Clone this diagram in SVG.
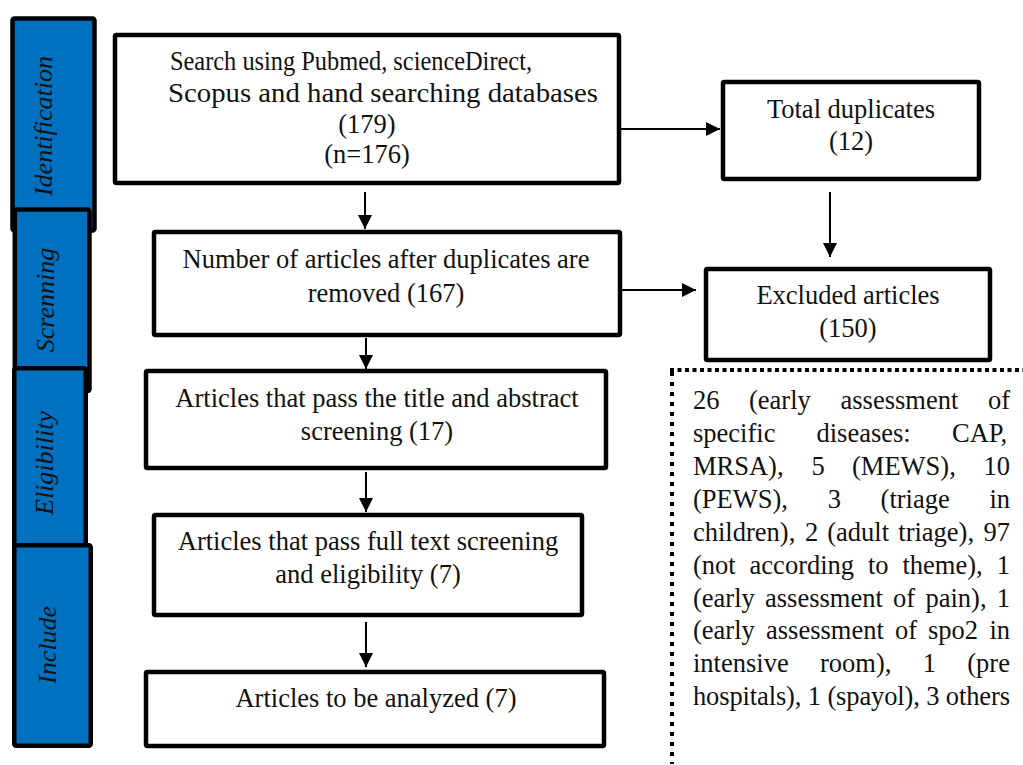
<svg xmlns="http://www.w3.org/2000/svg" width="1023" height="765" viewBox="0 0 1023 765">
<defs>
<style>
.stage{fill:#0070C0;stroke:#000;stroke-width:4.5}
.slab{font-family:"Liberation Serif","Times New Roman",serif;font-style:italic;font-size:26px;fill:#111;text-anchor:middle}
.box{fill:#fff;stroke:#000;stroke-width:4.5}
.t{font-family:"Liberation Serif","Times New Roman",serif;font-size:26.5px;fill:#111;text-anchor:middle}
.j{font-family:"Liberation Serif","Times New Roman",serif;font-size:26.5px;fill:#111}
.c{stroke:#000;stroke-width:2;fill:none;marker-end:url(#ah)}
.dot{stroke:#000;stroke-width:4;fill:none}
</style>
<marker id="ah" markerUnits="userSpaceOnUse" markerWidth="14" markerHeight="14" refX="14" refY="7" orient="auto">
<path d="M0,0 L14,7 L0,14 Z" fill="#000"/>
</marker>
</defs>
<rect width="1023" height="765" fill="#fff"/>

<g id="stage-identification">
<rect class="stage" x="12.5" y="18.5" width="82" height="212" rx="2"/>
<text class="slab" transform="translate(52,126) rotate(-90)">Identification</text>
</g>
<g id="stage-screening">
<rect class="stage" x="14.8" y="209.5" width="74.7" height="181.5" rx="2"/>
<text class="slab" transform="translate(54,300) rotate(-90)">Screnning</text>
</g>
<g id="stage-eligibility">
<rect class="stage" x="14.25" y="368.25" width="71.5" height="189.5" rx="2"/>
<text class="slab" transform="translate(53,463) rotate(-90)">Eligibility</text>
</g>
<g id="stage-include">
<rect class="stage" x="14.25" y="545.25" width="76.5" height="200.5" rx="2"/>
<text class="slab" transform="translate(56,645) rotate(-90)">Include</text>
</g>

<g id="connectors">
<line class="c" x1="365" y1="192" x2="365" y2="229"/>
<line class="c" x1="616" y1="129" x2="720" y2="129"/>
<line class="c" x1="830" y1="192" x2="830" y2="257"/>
<line class="c" x1="622" y1="290" x2="696" y2="290"/>
<line class="c" x1="366" y1="338" x2="366" y2="369"/>
<line class="c" x1="366" y1="472" x2="366" y2="512"/>
<line class="c" x1="366" y1="622" x2="366" y2="667"/>
</g>

<g id="search">
<rect class="box" x="115" y="35" width="504" height="148" rx="1.5"/>
<text class="j" x="170" y="70" textLength="362" lengthAdjust="spacingAndGlyphs">Search using Pubmed, scienceDirect,</text>
<text class="j" x="168" y="102" textLength="430" lengthAdjust="spacingAndGlyphs">Scopus and hand searching databases</text>
<text class="t" x="367" y="133">(179)</text>
<text class="t" x="367" y="163">(n=176)</text>
</g>
<g id="duplicates">
<rect class="box" x="723" y="82" width="256" height="97" rx="1.5"/>
<text class="t" x="851" y="118">Total duplicates</text>
<text class="t" x="851" y="150">(12)</text>
</g>
<g id="after-duplicates">
<rect class="box" x="154" y="232" width="466" height="103" rx="1.5"/>
<text class="t" x="386" y="268">Number of articles after duplicates are</text>
<text class="t" x="386" y="302">removed (167)</text>
</g>
<g id="excluded">
<rect class="box" x="706" y="269" width="284" height="91" rx="1.5"/>
<text class="t" x="848" y="304">Excluded articles</text>
<text class="t" x="848" y="337">(150)</text>
</g>
<g id="title-abstract">
<rect class="box" x="146" y="371" width="460" height="97" rx="1.5"/>
<text class="t" x="377" y="407">Articles that pass the title and abstract</text>
<text class="t" x="377" y="440">screening (17)</text>
</g>
<g id="full-text">
<rect class="box" x="154" y="515" width="428" height="100" rx="1.5"/>
<text class="t" x="368" y="550">Articles that pass full text screening</text>
<text class="t" x="368" y="583">and eligibility (7)</text>
</g>
<g id="analyzed">
<rect class="box" x="146" y="672" width="458" height="74" rx="1.5"/>
<text class="t" x="376" y="707">Articles to be analyzed (7)</text>
</g>

<g id="exclusion-details">
<line class="dot" x1="670" y1="370" x2="1023" y2="370" stroke-dasharray="4 3.5"/>
<line class="dot" x1="672" y1="372" x2="672" y2="764" stroke-dasharray="4 6"/>
<text class="j" y="409"><tspan x="693">26</tspan><tspan x="749">(early</tspan><tspan x="840.5">assessment</tspan><tspan x="988">of</tspan></text>
<text class="j" y="442"><tspan x="693">specific</tspan><tspan x="816.5">diseases:</tspan><tspan x="952">CAP,</tspan></text>
<text class="j" y="475"><tspan x="693">MRSA),</tspan><tspan x="811.5">5</tspan><tspan x="852">(MEWS),</tspan><tspan x="983.5">10</tspan></text>
<text class="j" y="508"><tspan x="693">(PEWS),</tspan><tspan x="827.7">3</tspan><tspan x="880.6">(triage</tspan><tspan x="989.4">in</tspan></text>
<text class="j" y="541"><tspan x="693">children),</tspan><tspan x="805">2</tspan><tspan x="827.2">(adult</tspan><tspan x="898.3">triage),</tspan><tspan x="983.5">97</tspan></text>
<text class="j" y="574"><tspan x="693">(not</tspan><tspan x="749.6">according</tspan><tspan x="868">to</tspan><tspan x="902.5">theme),</tspan><tspan x="996.7">1</tspan></text>
<text class="j" y="607"><tspan x="693">(early</tspan><tspan x="765">assessment</tspan><tspan x="893">of</tspan><tspan x="925.5">pain),</tspan><tspan x="996.7">1</tspan></text>
<text class="j" y="639"><tspan x="693">(early</tspan><tspan x="766">assessment</tspan><tspan x="895">of</tspan><tspan x="928">spo2</tspan><tspan x="989.4">in</tspan></text>
<text class="j" y="672"><tspan x="693">intensive</tspan><tspan x="820">room),</tspan><tspan x="922.7">1</tspan><tspan x="967.3">(pre</tspan></text>
<text class="j" x="693" y="705" textLength="317" lengthAdjust="spacing">hospitals), 1 (spayol), 3 others</text>
</g>
</svg>
